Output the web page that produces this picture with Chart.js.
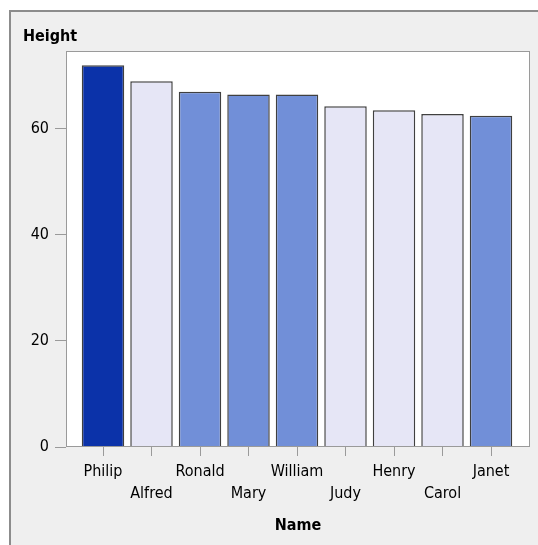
<!DOCTYPE html>
<html>
<head>
<meta charset="utf-8">
<script src="https://cdn.jsdelivr.net/npm/chart.js@4.4.0/dist/chart.umd.min.js"></script>
<style>
    html, body { margin: 0; padding: 0; background: #fff; overflow: hidden; }
    #frame {
        position: absolute; left: 9px; top: 10px; right: -20px; bottom: -20px;
        border-left: 2px solid #8c8c8c; border-top: 2px solid #8c8c8c;
        background: #efefef;
    }
    #chart { position: absolute; left: 0; top: 0; }
</style>
</head>
<body>
<div id="frame"></div>
<canvas id="chart" width="538" height="545"></canvas>
<script>
    const names = ['Philip', 'Alfred', 'Ronald', 'Mary', 'William', 'Judy', 'Henry', 'Carol', 'Janet'];
    const heights = [72, 69, 67, 66.5, 66.5, 64.3, 63.5, 62.8, 62.5];
    const yTickValues = [0, 20, 40, 60];
    const yMax = 74.7;

    const DARK = '#0b32a9', MID = '#718fd8', LIGHT = '#e6e6f6';
    const barColors = [DARK, LIGHT, MID, MID, MID, LIGHT, LIGHT, LIGHT, MID];

    const FONT = 'DejaVu Sans Condensed, Liberation Sans Narrow, sans-serif';
    const GRAY = '#9a9a9a';

    // white plot background + frame, and the horizontal "Height" label
    const plotFrame = {
        id: 'plotFrame',
        beforeDraw(chart) {
            const { ctx, chartArea: a } = chart;
            ctx.save();
            ctx.fillStyle = '#fff';
            ctx.fillRect(a.left, a.top, a.right - a.left, a.bottom - a.top);
            ctx.restore();
        },
        afterDraw(chart) {
            const { ctx, chartArea: a } = chart;
            ctx.save();
            ctx.strokeStyle = GRAY;
            ctx.lineWidth = 1;
            ctx.strokeRect(a.left + 0.5, a.top + 0.5, a.right - a.left - 1, a.bottom - a.top - 1);
            ctx.fillStyle = '#000';
            ctx.font = 'bold 16px ' + FONT;
            ctx.textBaseline = 'middle';
            ctx.textAlign = 'left';
            ctx.fillText('Height', a.left - 43, a.top - 14);
            ctx.restore();
        }
    };

    new Chart(document.getElementById('chart').getContext('2d'), {
        type: 'bar',
        data: {
            datasets: [{
                data: names.map((n, i) => ({ x: i, y: heights[i] })),
                backgroundColor: barColors,
                borderColor: '#404040',
                borderWidth: 1.5,
                barPercentage: 0.876,
                categoryPercentage: 1
            }]
        },
        options: {
            responsive: false,
            animation: false,
            devicePixelRatio: 1,
            layout: { padding: { left: 0, top: 51, right: 8, bottom: 0 } },
            plugins: {
                legend: { display: false },
                tooltip: { enabled: false }
            },
            scales: {
                x: {
                    type: 'linear',
                    offset: false,
                    min: -0.763,
                    max: 8.804,
                    afterBuildTicks: (scale) => { scale.ticks = names.map((n, i) => ({ value: i })); },
                    afterFit: (scale) => { scale.height = 98; },
                    ticks: {
                        autoSkip: false,
                        maxRotation: 0,
                        padding: 5,
                        color: '#000',
                        font: { family: FONT, size: 16, lineHeight: 1.375 },
                        callback: (value) => {
                            const i = Math.round(value);
                            return i % 2 ? ['', names[i]] : names[i];
                        }
                    },
                    grid: { offset: false, drawOnChartArea: false, tickLength: 9, color: GRAY },
                    border: { display: false },
                    title: {
                        display: true,
                        text: 'Name',
                        color: '#000',
                        font: { family: FONT, size: 16, weight: 'bold', lineHeight: 1.2 },
                        padding: { top: 0, bottom: 9.4 }
                    }
                },
                y: {
                    min: 0,
                    max: yMax,
                    afterBuildTicks: (scale) => { scale.ticks = yTickValues.map(v => ({ value: v })); },
                    afterFit: (scale) => { scale.width = 66; },
                    ticks: {
                        padding: 6,
                        color: '#000',
                        font: { family: FONT, size: 16 }
                    },
                    grid: { drawOnChartArea: false, tickLength: 11, color: GRAY },
                    border: { display: false }
                }
            }
        },
        plugins: [plotFrame]
    });
</script>
</body>
</html>
